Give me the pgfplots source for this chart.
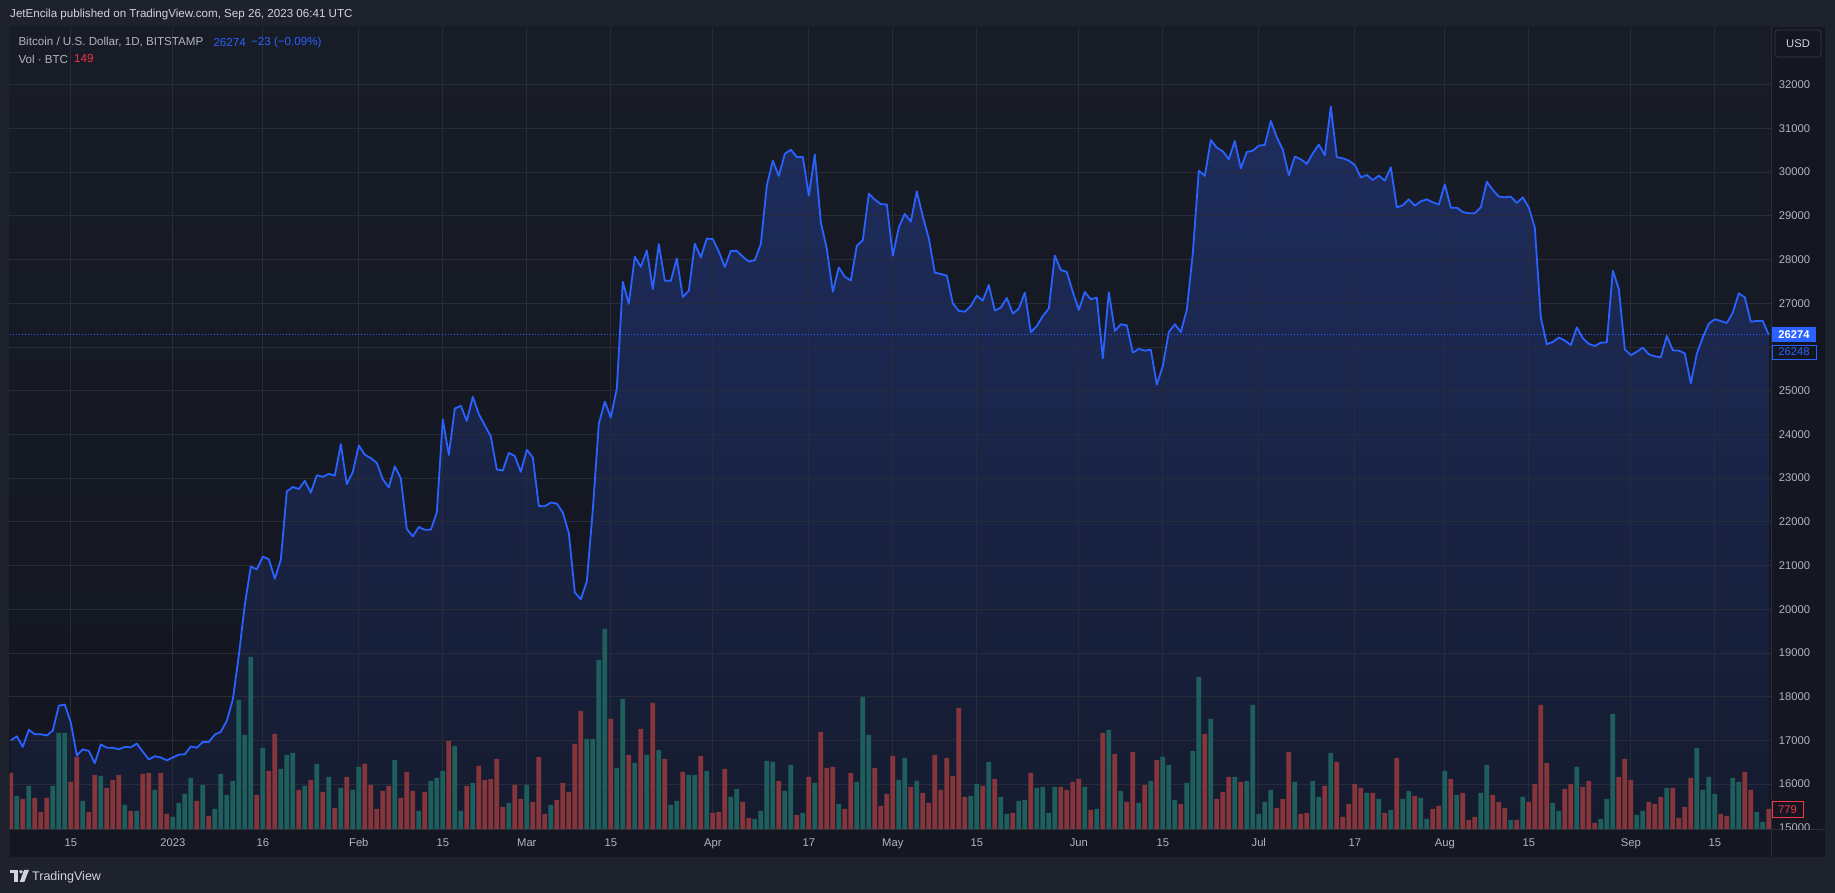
\documentclass[border=0pt]{standalone}
\usepackage{fontspec}
\setmainfont{Liberation Sans}
\usepackage{pgfplots}
\pgfplotsset{compat=1.18}
\usepackage{pgfplotstable}
\definecolor{outerbg}{RGB}{30,34,45}
\definecolor{panelbg}{RGB}{20,23,33}
\definecolor{plottop}{RGB}{24,28,39}
\definecolor{plotbot}{RGB}{19,22,32}
\definecolor{gridc}{RGB}{40,44,56}
\definecolor{tvblue}{RGB}{41,98,255}
\definecolor{areatop}{RGB}{30,45,95}
\definecolor{areabot}{RGB}{21,27,46}
\definecolor{volg}{RGB}{30,94,92}
\definecolor{volr}{RGB}{134,54,59}
\definecolor{tvred}{RGB}{242,54,69}
\definecolor{txt}{RGB}{178,181,190}
\definecolor{hdr}{RGB}{209,212,220}
\definecolor{sepc}{RGB}{42,46,57}
\definecolor{boxc}{RGB}{54,58,69}
\newcommand\tvfont{\fontsize{11.2}{13}\selectfont}
\newcommand\lgfont{\fontsize{11.6}{13}\selectfont}

% day index d: 0 = 1 Jan 2023; p = close (USD)
\pgfplotstableread{
d p
-27 17000
-26 17093
-25 16851
-24 17243
-23 17140
-22 17140
-21 17112
-20 17224
-19 17793
-18 17822
-17 17402
-16 16655
-15 16795
-14 16758
-13 16478
-12 16907
-11 16833
-10 16833
-9 16795
-8 16851
-7 16842
-6 16926
-5 16739
-4 16562
-3 16637
-2 16609
-1 16543
0 16609
1 16674
2 16683
3 16861
4 16833
5 16963
6 16963
7 17131
8 17196
9 17448
10 17933
11 18942
12 20108
13 20976
14 20911
15 21200
16 21144
17 20696
18 21135
19 22693
20 22796
21 22749
22 22936
23 22665
24 23066
25 23029
26 23094
27 23057
28 23776
29 22861
30 23141
31 23748
32 23533
33 23458
34 23346
35 22973
36 22786
37 23271
38 22992
39 21834
40 21667
41 21881
42 21816
43 21816
44 22217
45 24340
46 23530
47 24591
48 24654
49 24307
50 24858
51 24465
52 24205
53 23953
54 23197
55 23173
56 23575
57 23504
58 23142
59 23646
60 23473
61 22362
62 22354
63 22441
64 22417
65 22213
66 21740
67 20386
68 20228
69 20638
70 22276
71 24244
72 24748
73 24386
74 25047
75 27488
76 26984
77 28063
78 27835
79 28205
80 27323
81 28354
82 27512
83 27512
84 28024
85 27142
86 27284
87 28362
88 28047
89 28480
90 28465
91 28181
92 27827
93 28197
94 28197
95 28063
96 27953
97 27984
98 28354
99 29693
100 30260
101 29913
102 30417
103 30512
104 30346
105 30346
106 29457
107 30402
108 28850
109 28244
110 27260
111 27819
112 27606
113 27520
114 28315
115 28441
116 29504
117 29370
118 29268
119 29258
120 28084
121 28740
122 29042
123 28866
124 29560
125 28981
126 28485
127 27700
128 27669
129 27631
130 26998
131 26823
132 26807
133 26937
134 27173
135 27059
136 27417
137 26830
138 26899
139 27120
140 26762
141 26876
142 27242
143 26335
144 26480
145 26708
146 26876
147 28088
148 27761
149 27715
150 27257
151 26846
152 27257
153 27090
154 27128
155 25740
156 27250
157 26365
158 26518
159 26495
160 25870
161 25953
162 25915
163 25938
164 25138
165 25565
166 26342
167 26518
168 26342
169 26846
170 28142
171 30033
172 29911
173 30734
174 30559
175 30475
176 30292
177 30711
178 30086
179 30460
180 30490
181 30605
182 30620
183 31169
184 30795
185 30513
186 29926
187 30353
188 30292
189 30185
190 30429
191 30628
192 30384
193 31497
194 30338
195 30315
196 30262
197 30162
198 29880
199 29934
200 29819
201 29918
202 29804
203 30109
204 29194
205 29240
206 29377
207 29232
208 29331
209 29377
210 29308
211 29255
212 29720
213 29186
214 29186
215 29087
216 29057
217 29057
218 29194
219 29781
220 29591
221 29438
222 29423
223 29438
224 29293
225 29423
226 29186
227 28729
228 26678
229 26060
230 26114
231 26213
232 26144
233 26045
234 26449
235 26198
236 26068
237 26022
238 26098
239 26106
240 27745
241 27326
242 25946
243 25809
244 25892
245 25984
246 25831
247 25786
248 25763
249 26251
250 25923
251 25915
252 25854
253 25168
254 25847
255 26220
256 26533
257 26632
258 26594
259 26548
260 26785
261 27227
262 27135
263 26579
264 26594
265 26594
266 26274
}\price

% volume (bar height units), up days
\pgfplotstableread{
d v
-26 34
-24 44
-20 44
-19 97
-18 97
-15 29
-12 54
-8 25
-6 19
-3 40
0 13
1 27
2 36
3 52
5 45
7 21
8 56
9 35
10 49
11 130
12 95
13 173
15 82
18 61
19 75
20 77
22 44
24 66
26 53
28 42
30 40
31 63
37 70
41 19
43 49
44 52
45 59
47 84
48 19
50 47
56 27
59 45
63 25
69 91
70 91
71 170
72 201
74 62
75 131
77 67
79 75
81 80
83 25
84 29
86 55
87 55
89 59
93 33
94 41
97 11
98 19
99 69
100 68
102 39
103 65
105 17
107 47
111 26
114 48
115 133
116 95
121 50
122 72
124 49
133 34
134 46
136 68
138 33
139 16
141 29
142 30
144 42
145 43
146 17
147 43
152 43
154 21
156 100
158 39
161 27
163 49
165 73
166 65
167 30
169 47
170 79
171 153
173 111
177 53
179 49
180 125
181 16
182 28
183 40
187 48
190 49
191 33
193 77
199 37
201 31
203 20
205 31
206 39
208 32
209 11
212 59
214 35
218 37
219 65
223 10
225 33
230 27
231 19
234 63
238 11
239 31
240 116
244 15
245 19
249 42
254 82
255 40
256 53
257 36
260 52
261 48
264 18
265 8
}\volG

% volume, down days
\pgfplotstableread{
d v
-27 57
-25 31
-23 32
-22 18
-21 32
-17 48
-16 73
-14 18
-13 55
-11 42
-10 50
-9 55
-7 19
-5 56
-4 57
-2 57
-1 16
4 29
6 14
14 35
16 59
17 96
21 40
23 50
25 38
27 22
29 53
32 66
33 45
34 21
35 39
36 44
38 32
39 58
40 39
42 38
46 89
49 44
51 64
52 50
53 51
54 71
55 23
57 45
58 31
60 28
61 73
62 16
64 30
65 47
66 38
67 86
68 119
73 111
76 75
78 101
80 127
82 71
85 58
88 74
90 17
91 18
92 61
95 28
96 12
101 49
104 15
106 53
108 98
109 62
110 63
112 21
113 57
117 62
118 24
119 36
120 74
123 43
125 37
126 27
127 75
128 40
129 72
130 54
131 122
132 33
135 44
137 51
140 17
143 57
148 43
149 40
150 48
151 51
153 20
155 97
157 76
159 28
160 78
162 45
164 70
168 26
172 96
174 31
175 38
176 53
178 48
184 22
185 31
186 78
188 16
189 17
192 44
194 68
195 13
196 26
197 46
198 42
200 37
202 17
204 72
207 34
210 21
211 24
213 51
215 37
216 10
217 13
220 35
221 28
222 22
224 10
226 28
227 46
228 125
229 67
232 41
233 46
235 43
236 49
237 7
241 53
242 71
243 50
246 28
247 26
248 33
250 42
251 12
252 23
253 52
258 16
259 14
262 58
263 40
266 21
}\volR

\begin{document}
\begin{tikzpicture}[x=1pt,y=1pt]
\fill[outerbg] (0,0) rectangle (1835,893);
\fill[panelbg] (9.5,36) rectangle (1825,866);
\shade[top color=plottop,bottom color=plotbot] (9.5,63) rectangle (1771,866);
\pgfplotsset{tvax/.style={at={(9.5pt,63pt)},anchor=south west,scale only axis,
  width=1761.5pt,height=803pt,xmin=-27.22,xmax=266.37}}
% price area + grid + labels
\begin{axis}[tvax, ymin=14950, ymax=33319, axis on top,
  scaled y ticks=false, scaled x ticks=false,
  axis line style={draw=none}, major tick length=0pt,
  grid=major, major grid style={draw=gridc,line width=0.8pt},
  xtick={-17,0,15,31,45,59,73,90,106,120,134,151,165,181,197,212,226,243,257},
  xticklabels={15,2023,16,Feb,15,Mar,15,Apr,17,May,15,Jun,15,Jul,17,Aug,15,Sep,15},
  ytick={15000,16000,...,32000},
  yticklabels={,16000,17000,18000,19000,20000,21000,22000,23000,24000,25000,,27000,28000,29000,30000,31000,32000},
  yticklabel pos=right,
  xticklabel style={font=\tvfont,text=txt,anchor=base,yshift=-17pt},
  yticklabel style={font=\tvfont,text=txt,anchor=west,xshift=4.3pt}]
\addplot[draw=none,top color=areatop,bottom color=areabot] table[x=d,y=p]{\price} |- (axis cs:-27,14950) -- cycle;
\end{axis}
% volume
\begin{axis}[tvax, ymin=0, ymax=803, hide axis, ybar, bar width=4.8pt]
\addplot[fill=volg,draw=none,bar shift=0pt] table[x=d,y=v]{\volG};
\addplot[fill=volr,draw=none,bar shift=0pt] table[x=d,y=v]{\volR};
\end{axis}
% price line
\begin{axis}[tvax, ymin=14950, ymax=33319, hide axis]
\addplot[tvblue,line width=1pt,dash pattern=on 1pt off 2pt] coordinates {(-27.22,26274) (266.37,26274)};
\addplot[tvblue,line width=1.8pt,line join=round] table[x=d,y=p]{\price};
\end{axis}
% separators
\draw[sepc,line width=1pt] (1771,36) -- (1771,866);
\draw[sepc,line width=1pt] (9.5,63) -- (1825,63);
% clipped 15000 label
\begin{scope}
\clip (1772,63.5) rectangle (1825,866);
\node[anchor=west,inner sep=0pt,font=\tvfont,text=txt] at (1779,65.2) {15000};
\end{scope}
% last price boxes
\fill[tvblue] (1772,550.5) rectangle (1816,565.5);
\node[font=\tvfont\bfseries,text=white,inner sep=0pt] at (1794,558) {26274};
\filldraw[fill=panelbg,draw=tvblue,line width=0.8pt] (1772,534) rectangle (1816,548);
\node[font=\tvfont,text=tvblue,inner sep=0pt] at (1794,541) {26248};
\filldraw[fill=panelbg,draw=tvred,line width=0.8pt] (1772,75.3) rectangle (1803,91.3);
\node[font=\tvfont,text=tvred,inner sep=0pt] at (1787.5,83.3) {779};
% USD box
\filldraw[fill=panelbg,draw=boxc,line width=0.8pt,rounded corners=3pt] (1775,836) rectangle (1821,863);
\node[font=\tvfont,text=hdr,inner sep=0pt] at (1798,849.5) {USD};
% header
\node[anchor=west,inner sep=0pt,font=\lgfont,text=hdr] at (10,878) {JetEncila published on TradingView.com, Sep 26, 2023 06:41 UTC};
% legend
\node[anchor=west,inner sep=0pt,font=\lgfont,text=txt] at (18.3,850.7) {Bitcoin / U.S. Dollar, 1D, BITSTAMP};
\node[anchor=west,inner sep=0pt,font=\lgfont,text=tvblue] at (213.3,850.7) {26274};
\node[anchor=west,inner sep=0pt,font=\lgfont,text=tvblue] at (251,850.7) {−23 (−0.09\%)};
\node[anchor=west,inner sep=0pt,font=\lgfont,text=txt] at (18.3,834) {Vol · BTC};
\node[anchor=west,inner sep=0pt,font=\lgfont,text=tvred] at (74,834) {149};
% logo
\fill[hdr] (10,23) rectangle (17.5,19.5);
\fill[hdr] (13.8,19.5) rectangle (17.5,11);
\fill[hdr] (21,21.2) circle (1.8);
\fill[hdr] (24,23) -- (29,23) -- (24.3,11) -- (19.8,11) -- cycle;
\node[anchor=base west,inner sep=0pt,font=\fontsize{12.5}{14}\selectfont,text=hdr] at (32,12.5) {TradingView};
\pgfresetboundingbox
\useasboundingbox (0,0) rectangle (1835,893);
\end{tikzpicture}
\end{document}
